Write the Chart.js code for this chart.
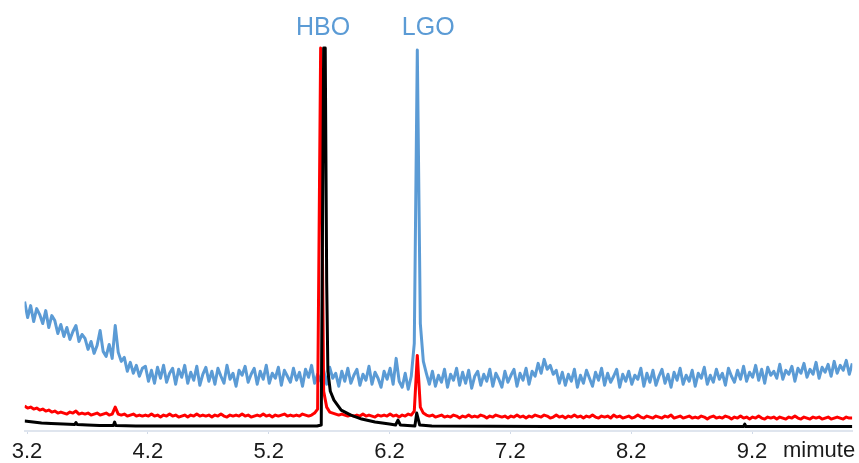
<!DOCTYPE html>
<html>
<head>
<meta charset="utf-8">
<script src="https://cdn.jsdelivr.net/npm/chart.js@4.4.1/dist/chart.umd.min.js"></script>
<style>
  body { margin: 0; background: #fff; }
  #wrap { width: 859px; height: 463px; }
</style>
</head>
<body>
<div id="wrap"><canvas id="chromatogram" width="859" height="463"></canvas></div>
<script>
// sampling of the detector traces (minutes)
const START_MIN = 3.18;
const STEP_MIN = 0.025;
const END_MIN = 10.03;

// blue trace, one value per sample
const blueSignal = [
  130,114,126,110,123,117,108,121,104,116,
  111,98,107,95,104,92,100,106,90,97,
  93,82,90,78,86,101,80,75,87,73,
  106,79,70,74,60,69,58,66,55,63,
  65,50,61,48,64,53,66,49,58,63,
  47,62,54,66,48,59,51,65,46,57,
  64,50,60,47,63,55,48,66,52,58,
  45,61,56,65,49,57,63,47,60,52,
  66,48,58,53,64,46,61,55,49,63,
  51,59,45,62,54,66,48,57,50,61,
  47,64,53,58,45,60,50,63,48,56,
  62,46,57,51,65,47,59,53,44,60,
  52,63,47,73,50,44,58,42,55,88,
  383,108,70,58,47,60,45,56,49,62,
  44,57,51,63,46,59,48,61,43,55,
  60,46,57,50,62,45,58,52,44,60,
  49,56,62,45,58,51,63,47,60,55,
  68,58,72,62,66,57,61,48,59,46,
  57,50,62,44,56,48,61,53,45,59,
  51,63,46,58,49,55,62,44,57,50,
  60,47,56,52,63,45,58,49,61,46,
  55,62,48,57,44,59,51,63,47,56,
  50,61,45,58,53,64,47,56,49,62,
  52,58,46,63,55,49,61,52,65,50,
  59,54,66,51,62,48,64,56,60,53,
  67,52,61,57,65,50,63,58,68,54,
  62,57,69,53,64,59,67,55,70,58,
  66,61,71,57,68
];

// red trace, same sampling
const redSignal = [
  25,23,24,22,23,21,22,20,21,19,
  20,18,19,18,17,19,18,20,17,18,
  17,18,16,17,18,16,17,18,16,17,
  24,17,16,17,15,16,17,15,16,15,
  16,15,17,15,16,14,16,15,17,15,
  16,14,15,16,14,16,15,17,15,16,
  15,16,14,16,15,17,15,14,16,15,
  16,15,17,15,16,14,15,16,15,17,
  15,16,14,16,15,16,17,15,16,15,
  16,15,17,16,15,16,18,22,385,40,
  24,19,18,17,16,17,16,15,16,15,
  16,15,17,15,16,15,14,16,15,16,
  15,17,15,16,14,16,15,17,16,20,
  76,24,18,16,15,16,14,15,16,14,
  15,14,16,15,13,15,14,16,14,15,
  14,16,15,13,15,14,16,15,14,15,
  13,15,14,16,14,15,13,15,14,16,
  15,14,16,15,13,14,16,14,15,13,
  15,14,16,14,15,13,15,14,16,14,
  13,15,14,15,13,16,14,15,13,14,
  15,13,14,16,14,13,15,14,13,15,
  14,13,15,14,16,13,14,15,13,14,
  15,13,14,13,15,14,12,14,15,13,
  14,13,15,14,12,14,13,15,13,14,
  12,14,13,15,13,12,14,13,14,12,
  14,13,12,14,13,15,13,12,14,13,
  12,14,13,14,12,13,14,12,13,14,
  13,12,14,13,13
];

// black trace is smooth, so it is kept as its own time/value pairs
const blackTimes = [3.18,3.25,3.32,3.40,3.50,3.595,3.605,3.615,3.70,3.80,3.915,3.925,3.935,4.10,4.60,5.10,5.60,5.635,5.655,5.668,5.68,5.69,5.71,5.74,5.80,5.88,5.97,6.08,6.20,6.25,6.27,6.29,6.35,6.41,6.425,6.45,6.55,7.50,8.50,9.13,9.14,9.15,10.03];
const blackSignal = [10,9,8,7.5,7,6.5,8.5,6.5,6,5.5,5.5,9,5.5,5,5,5,5,6,385,385,150,60,40,31,21,16,12,9,7,6,11,6,5.5,5,18,6,5,4.5,4.5,4.5,7,4.5,4.5];

const tickMinutes = [3.2, 4.2, 5.2, 6.2, 7.2, 8.2, 9.2];
const axisUnit = 'mimute';

const peakNames = ['HBO', 'LGO'];
const peakLabelMinutes = [5.65, 6.52];

function sampled(values) {
  return values.map((v, i) => ({ x: START_MIN + i * STEP_MIN, y: v }));
}

const peakLabels = {
  id: 'peakLabels',
  afterDraw(chart) {
    const c = chart.ctx;
    const xs = chart.scales.x;
    c.save();
    c.font = '25px "Liberation Sans", Arial, sans-serif';
    c.fillStyle = '#5b9bd5';
    c.textAlign = 'center';
    c.textBaseline = 'middle';
    peakNames.forEach((name, i) => {
      c.fillText(name, xs.getPixelForValue(peakLabelMinutes[i]), chart.chartArea.top - 5);
    });
    // unit after the last tick label
    c.font = '22px "Liberation Sans", Arial, sans-serif';
    c.fillStyle = '#1a1a1a';
    c.textAlign = 'left';
    c.fillText(axisUnit, xs.getPixelForValue(tickMinutes[tickMinutes.length - 1]) + 31, xs.top + 20);
    c.restore();
  }
};

new Chart(document.getElementById('chromatogram'), {
  type: 'line',
  data: {
    datasets: [{
      data: blackTimes.map((t, i) => ({ x: t, y: blackSignal[i] })),
      borderColor: '#000000',
      borderWidth: 3,
      order: 1
    }, {
      data: sampled(redSignal),
      borderColor: '#ff0000',
      borderWidth: 3,
      order: 2
    }, {
      data: sampled(blueSignal),
      borderColor: '#5b9bd5',
      borderWidth: 3,
      order: 3
    }]
  },
  options: {
    responsive: false,
    animation: false,
    events: [],
    layout: { padding: { top: 33, left: 24.6, right: 6.7, bottom: -7 } },
    elements: {
      point: { radius: 0 },
      line: { tension: 0, borderJoinStyle: 'round', fill: false }
    },
    plugins: { legend: { display: false }, tooltip: { enabled: false } },
    scales: {
      x: {
        type: 'linear',
        min: START_MIN,
        max: END_MIN,
        afterBuildTicks: scale => { scale.ticks = tickMinutes.map(v => ({ value: v })); },
        ticks: {
          autoSkip: false,
          maxRotation: 0,
          padding: 7,
          color: '#1a1a1a',
          font: { family: '"Liberation Sans", Arial, sans-serif', size: 22, lineHeight: 1 },
          callback: v => v.toFixed(1)
        },
        grid: { drawOnChartArea: false, tickLength: 3, color: 'rgba(190,203,222,0.7)' },
        border: { color: '#dfe5ee', width: 2 }
      },
      y: {
        display: false,
        min: 0,
        max: 400
      }
    }
  },
  plugins: [peakLabels]
});
</script>
</body>
</html>
